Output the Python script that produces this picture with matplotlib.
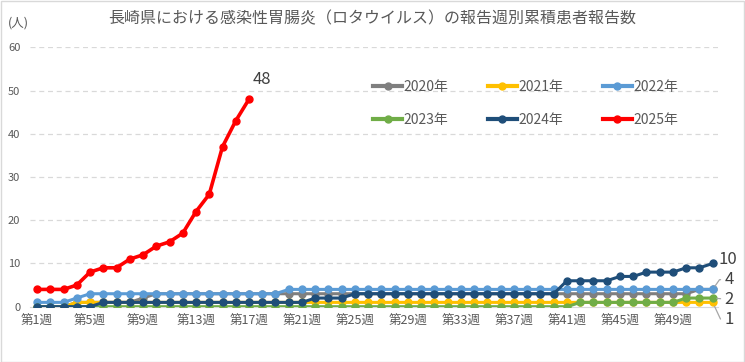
import matplotlib
matplotlib.use("Agg")
import matplotlib.pyplot as plt
from matplotlib.lines import Line2D
from matplotlib.patches import Rectangle

plt.rcParams['font.family'] = ['Noto Sans CJK JP', 'DejaVu Sans']

title = "長崎県における感染性胃腸炎（ロタウイルス）の報告週別累積患者報告数"
unit_label = "(人)"
weeks = list(range(1, 53))
tick_weeks = list(range(1, 53, 4))
tick_labels = [f"第{w}週" for w in tick_weeks]
yticks = [0, 10, 20, 30, 40, 50, 60]

series_names = ["2020年", "2021年", "2022年", "2023年", "2024年", "2025年"]
v2020 = [0, 0, 0, 1, 1, 1, 1, 1, 2] + [3] * 41 + [4, 4]
v2021 = [0, 0, 0] + [1] * 49
v2022 = [1, 1, 1, 2] + [3] * 15 + [4] * 33
v2023 = [0] * 41 + [1] * 8 + [2] * 3
v2024 = [0] * 5 + [1] * 16 + [2] * 3 + [3] * 16 + [6] * 4 + [7] * 2 + [8] * 3 + [9] * 2 + [10]
v2025 = [4, 4, 4, 5, 8, 9, 9, 11, 12, 14, 15, 17, 22, 26, 37, 43, 48]
values = [v2020, v2021, v2022, v2023, v2024, v2025]
colors = ["#7F7F7F", "#FFC000", "#5B9BD5", "#70AD47", "#1F4E79", "#FF0000"]

W, H = 745, 362
fig = plt.figure(figsize=(W / 100, H / 100), dpi=100)
fig.patches.append(Rectangle((0.5 / W, 0.5 / H), 1 - 1.5 / W, 1 - 1.5 / H, transform=fig.transFigure,
                             fill=False, edgecolor="#D9D9D9", linewidth=1))
ax = fig.add_axes([30 / W, 1 - 306.7 / H, 688 / W, (306.7 - 47.3) / H])

handles = []
for name, vals, c in zip(series_names, values, colors):
    lw = 2.6 if c == "#FF0000" else 2.2
    ln, = ax.plot(weeks[:len(vals)], vals, color=c, lw=lw, marker="o", ms=5, label=name,
                  solid_joinstyle="round")
    handles.append(ln)

ax.set_xlim(0.47, 52.4)
ax.set_ylim(0, 60)
ax.set_yticks(yticks)
ax.set_yticklabels([str(v) for v in yticks], fontsize=8, color="#595959")
ax.set_xticks(tick_weeks)
ax.set_xticklabels(tick_labels, fontsize=9, color="#595959")
ax.tick_params(axis="both", length=0)
ax.tick_params(axis="y", pad=7)
ax.tick_params(axis="x", pad=6)
for y in yticks[1:]:
    ax.axhline(y, color="#D9D9D9", lw=0.9, ls=(0, (4, 3)), zorder=0)
for s in ["top", "right", "left"]:
    ax.spines[s].set_visible(False)
ax.spines["bottom"].set_color("#D9D9D9")
ax.spines["bottom"].set_zorder(0)

fig.text(372 / W, 1 - 19 / H, title, ha="center", va="center", fontsize=11.5, color="#595959")
fig.text(18 / W, 1 - 23 / H, unit_label, ha="center", va="center", fontsize=9, color="#595959")

# row-major legend order (matplotlib fills columns first)
order = [0, 3, 1, 4, 2, 5]
leg = fig.legend(handles=[Line2D([], [], color=colors[i], lw=3, marker="o", ms=5) for i in order],
                 labels=[series_names[i] for i in order], ncol=3, loc="upper left",
                 bbox_to_anchor=(373 / W, 1 - 80 / H), frameon=False, fontsize=10,
                 handlelength=2.1, handletextpad=0.1, columnspacing=2.84, labelspacing=1.38,
                 borderpad=0, borderaxespad=0)
for t in leg.get_texts():
    t.set_color("#595959")

# data labels
lab_col = "#404040"
x25 = len(v2025)
ax.annotate(str(v2025[-1]), (x25, v2025[-1]), xytext=(9, 14), textcoords="offset points",
            ha="center", va="center", fontsize=12, color=lab_col)
ax.annotate(str(v2024[-1]), (52, v2024[-1]), xytext=(11, 3), textcoords="offset points",
            ha="center", va="center", fontsize=12, color=lab_col, annotation_clip=False)
lead = dict(arrowstyle="-", color="#A6A6A6", lw=0.9, shrinkA=1, shrinkB=3)
ax.annotate(str(v2022[-1]), (52, v2022[-1]), xytext=(12, 7), textcoords="offset points",
            ha="center", va="center", fontsize=12, color=lab_col, annotation_clip=False,
            arrowprops=dict(lead, connectionstyle="angle,angleA=0,angleB=55"))
ax.annotate(str(v2023[-1]), (52, v2023[-1]), xytext=(12, -1), textcoords="offset points",
            ha="center", va="center", fontsize=12, color=lab_col, annotation_clip=False,
            arrowprops=lead)
ax.annotate(str(v2021[-1]), (52, v2021[-1]), xytext=(12, -12), textcoords="offset points",
            ha="center", va="center", fontsize=12, color=lab_col, annotation_clip=False,
            arrowprops=dict(lead, connectionstyle="angle,angleA=0,angleB=-65"))

fig.savefig("out.png", dpi=100)
